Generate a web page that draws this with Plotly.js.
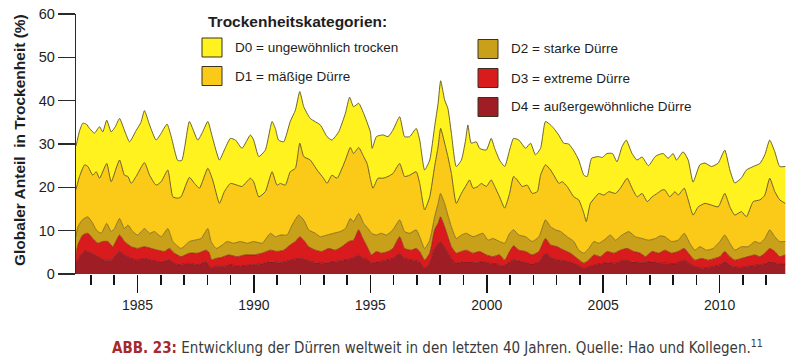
<!DOCTYPE html>
<html>
<head>
<meta charset="utf-8">
<script src="https://cdn.plot.ly/plotly-3.0.1.min.js"></script>
<style>
  html, body { margin: 0; padding: 0; background: #fff; }
  #chart { width: 797px; height: 360px; }
</style>
</head>
<body>
<div id="chart"></div>
<script>
// Cumulative share of global land area in drought (%), category Dk or worse: [year, percent]
const d0 = [[1982.36,29.5],[1982.51,33.0],[1982.65,34.8],[1982.80,34.6],[1982.94,33.6],[1983.15,32.5],[1983.37,34.0],[1983.51,32.8],[1983.68,35.5],[1983.87,32.8],[1984.05,34.0],[1984.23,35.9],[1984.45,33.0],[1984.66,30.5],[1984.94,33.1],[1985.15,35.0],[1985.30,37.7],[1985.52,34.4],[1985.80,30.9],[1986.02,32.5],[1986.27,34.6],[1986.45,31.7],[1986.73,26.2],[1986.90,26.2],[1987.05,30.0],[1987.23,35.2],[1987.59,30.9],[1987.80,32.8],[1988.02,35.2],[1988.23,31.3],[1988.52,26.3],[1988.73,28.6],[1988.99,31.3],[1989.21,30.9],[1989.49,29.0],[1989.85,32.1],[1989.99,30.9],[1990.21,27.1],[1990.49,28.6],[1990.78,35.2],[1990.92,33.6],[1991.06,30.9],[1991.28,30.5],[1991.56,35.2],[1991.78,37.8],[1991.97,42.1],[1992.14,38.6],[1992.42,35.9],[1992.85,34.4],[1993.14,31.7],[1993.35,30.9],[1993.64,32.8],[1993.93,37.1],[1994.11,40.8],[1994.28,38.6],[1994.50,39.4],[1994.71,37.1],[1995.00,32.8],[1995.08,29.0],[1995.26,31.7],[1995.54,32.1],[1995.76,31.7],[1995.97,33.2],[1996.26,36.3],[1996.47,31.7],[1996.69,31.7],[1996.97,33.6],[1997.12,30.9],[1997.33,24.0],[1997.55,26.3],[1997.76,34.0],[1997.91,39.4],[1998.02,44.6],[1998.19,40.2],[1998.33,38.2],[1998.48,32.5],[1998.69,24.8],[1998.91,26.3],[1999.09,30.9],[1999.19,34.4],[1999.33,30.2],[1999.55,30.5],[1999.69,29.0],[1999.98,28.6],[2000.19,31.3],[2000.34,29.0],[2000.55,26.3],[2000.77,24.8],[2000.98,28.6],[2001.15,31.3],[2001.38,30.9],[2001.67,29.0],[2001.88,30.2],[2002.09,27.5],[2002.31,29.0],[2002.52,35.2],[2002.74,34.4],[2002.88,33.6],[2003.10,32.0],[2003.30,30.2],[2003.52,30.0],[2003.74,28.4],[2003.95,26.3],[2004.17,22.8],[2004.31,22.5],[2004.50,26.7],[2004.80,27.1],[2004.96,26.9],[2005.16,27.8],[2005.40,27.8],[2005.59,25.9],[2005.81,29.4],[2005.99,30.9],[2006.23,27.9],[2006.45,26.3],[2006.67,27.0],[2006.94,25.0],[2007.23,27.1],[2007.36,27.5],[2007.58,27.8],[2007.79,26.7],[2008.00,27.8],[2008.15,26.3],[2008.43,28.2],[2008.65,26.3],[2008.86,21.2],[2009.15,25.2],[2009.37,25.6],[2009.65,24.8],[2009.94,25.6],[2010.22,28.6],[2010.44,24.0],[2010.65,21.0],[2010.94,22.2],[2011.15,24.0],[2011.44,24.8],[2011.73,25.5],[2011.94,27.5],[2012.15,30.9],[2012.37,28.2],[2012.58,24.8],[2012.82,24.8]];
const d1 = [[1982.36,19.5],[1982.51,22.5],[1982.73,25.2],[1982.87,24.8],[1983.08,22.8],[1983.23,23.6],[1983.37,22.1],[1983.68,25.5],[1983.87,21.3],[1984.23,26.3],[1984.44,22.8],[1984.59,22.5],[1984.73,20.9],[1984.94,22.5],[1985.30,25.7],[1985.52,22.8],[1985.80,20.5],[1986.02,21.3],[1986.30,24.0],[1986.52,17.8],[1986.73,17.5],[1986.87,17.8],[1987.23,22.3],[1987.45,20.9],[1987.66,19.8],[1988.02,24.4],[1988.23,21.7],[1988.52,16.3],[1988.73,19.0],[1988.99,20.9],[1989.28,20.5],[1989.49,20.2],[1989.85,22.1],[1989.99,21.3],[1990.21,17.8],[1990.49,19.0],[1990.78,23.6],[1990.99,20.5],[1991.14,20.9],[1991.35,20.5],[1991.56,23.6],[1991.78,24.4],[1991.97,30.2],[1992.14,27.1],[1992.42,26.3],[1992.71,24.0],[1992.99,22.1],[1993.14,20.9],[1993.35,22.8],[1993.57,22.1],[1993.93,26.3],[1994.14,29.2],[1994.28,27.8],[1994.50,29.2],[1994.71,27.1],[1994.86,25.5],[1995.00,22.0],[1995.11,19.8],[1995.33,22.1],[1995.54,22.1],[1995.76,22.5],[1995.97,23.2],[1996.26,25.5],[1996.47,22.5],[1996.69,22.8],[1996.97,23.6],[1997.12,20.9],[1997.33,14.8],[1997.55,17.8],[1997.76,24.8],[1997.91,29.4],[1998.02,33.6],[1998.19,30.2],[1998.33,27.1],[1998.48,23.2],[1998.69,16.3],[1998.91,18.6],[1999.12,20.5],[1999.26,21.7],[1999.41,19.8],[1999.62,20.2],[1999.76,20.9],[1999.98,20.2],[2000.19,21.7],[2000.34,20.2],[2000.55,17.8],[2000.77,15.2],[2000.98,18.6],[2001.15,22.5],[2001.31,21.7],[2001.52,20.2],[2001.74,20.5],[2001.95,18.6],[2002.17,19.0],[2002.31,22.8],[2002.52,25.2],[2002.74,24.0],[2002.88,22.8],[2003.10,20.9],[2003.24,21.3],[2003.45,20.2],[2003.74,17.8],[2003.95,17.1],[2004.17,14.0],[2004.27,12.1],[2004.45,16.3],[2004.67,17.8],[2004.81,18.6],[2005.03,18.2],[2005.24,19.0],[2005.53,18.6],[2005.74,19.8],[2006.03,22.1],[2006.24,19.8],[2006.46,17.8],[2006.67,18.6],[2006.89,16.7],[2007.10,17.8],[2007.32,18.6],[2007.53,19.4],[2007.65,19.4],[2007.86,17.8],[2008.08,19.0],[2008.22,18.2],[2008.48,19.8],[2008.65,17.1],[2008.86,13.6],[2009.08,15.5],[2009.37,16.3],[2009.65,15.9],[2009.94,15.5],[2010.22,18.6],[2010.44,15.5],[2010.65,13.6],[2010.94,14.4],[2011.15,13.2],[2011.44,16.7],[2011.73,17.1],[2011.94,18.2],[2012.15,22.1],[2012.37,19.0],[2012.58,17.1],[2012.82,16.3]];
const d2 = [[1982.36,8.6],[1982.44,10.9],[1982.65,12.6],[1982.87,13.2],[1983.08,11.7],[1983.23,10.2],[1983.44,9.4],[1983.68,11.7],[1983.87,9.8],[1984.01,10.5],[1984.23,12.8],[1984.44,10.5],[1984.59,11.3],[1984.80,9.8],[1985.01,9.0],[1985.30,10.5],[1985.52,9.4],[1985.73,9.8],[1986.02,8.6],[1986.30,10.5],[1986.52,7.5],[1986.87,5.9],[1987.23,7.5],[1987.45,7.8],[1987.73,8.2],[1988.02,10.5],[1988.16,7.5],[1988.38,5.9],[1988.59,6.5],[1988.85,7.5],[1989.13,7.1],[1989.42,7.5],[1989.71,7.1],[1989.99,7.5],[1990.35,7.1],[1990.71,9.4],[1990.92,8.6],[1991.14,9.0],[1991.42,9.0],[1991.64,11.3],[1991.92,13.6],[1992.14,12.5],[1992.35,10.2],[1992.64,9.4],[1992.85,8.6],[1993.14,9.0],[1993.42,9.4],[1993.71,9.8],[1993.93,10.5],[1994.14,12.8],[1994.28,12.1],[1994.50,14.0],[1994.71,11.7],[1994.90,10.5],[1995.05,9.4],[1995.26,9.0],[1995.47,9.4],[1995.69,9.0],[1995.97,10.2],[1996.26,12.5],[1996.47,9.8],[1996.69,9.4],[1996.97,10.2],[1997.12,8.6],[1997.33,5.9],[1997.55,7.8],[1997.76,13.2],[1997.91,16.3],[1998.01,18.6],[1998.19,16.3],[1998.33,13.6],[1998.48,10.9],[1998.69,8.2],[1998.91,9.0],[1999.12,9.4],[1999.41,8.6],[1999.62,9.0],[1999.84,9.4],[2000.05,7.8],[2000.26,8.2],[2000.55,7.5],[2000.77,7.1],[2000.98,9.4],[2001.15,10.2],[2001.38,9.0],[2001.67,8.6],[2001.95,7.5],[2002.24,8.6],[2002.52,12.5],[2002.74,10.9],[2002.95,10.2],[2003.17,9.8],[2003.45,8.6],[2003.74,7.5],[2003.95,5.5],[2004.17,4.8],[2004.38,5.9],[2004.60,7.5],[2004.81,7.1],[2005.03,7.8],[2005.31,9.0],[2005.53,7.8],[2005.81,9.0],[2006.10,9.8],[2006.38,8.6],[2006.67,8.2],[2006.95,7.8],[2007.24,8.2],[2007.45,8.8],[2007.65,8.6],[2007.93,7.5],[2008.22,7.8],[2008.48,9.4],[2008.72,7.1],[2008.94,5.5],[2009.15,6.3],[2009.44,5.5],[2009.72,5.9],[2010.01,7.5],[2010.22,9.0],[2010.44,7.1],[2010.65,5.5],[2010.94,6.3],[2011.22,6.3],[2011.51,7.5],[2011.73,7.1],[2011.94,8.2],[2012.15,10.2],[2012.37,8.6],[2012.58,7.5],[2012.82,7.5]];
const d3 = [[1982.36,4.4],[1982.44,6.7],[1982.65,9.0],[1982.87,9.4],[1983.08,8.2],[1983.30,7.1],[1983.51,7.5],[1983.73,7.5],[1983.94,6.3],[1984.23,9.0],[1984.44,7.5],[1984.73,6.3],[1985.01,5.9],[1985.30,6.3],[1985.59,5.9],[1985.87,5.5],[1986.16,5.2],[1986.37,5.9],[1986.59,4.8],[1986.87,4.0],[1987.23,4.8],[1987.59,4.8],[1987.95,5.5],[1988.07,5.0],[1988.18,3.3],[1988.38,3.6],[1988.59,3.8],[1988.92,4.4],[1989.28,4.0],[1989.63,4.4],[1989.99,4.4],[1990.35,4.8],[1990.71,5.5],[1990.99,5.2],[1991.28,5.5],[1991.56,6.7],[1991.78,7.5],[1991.97,8.6],[1992.14,7.8],[1992.35,6.3],[1992.64,5.5],[1992.92,5.2],[1993.21,5.9],[1993.49,5.5],[1993.78,6.3],[1994.07,7.5],[1994.28,7.8],[1994.50,10.2],[1994.64,8.6],[1994.86,6.3],[1995.05,4.4],[1995.26,5.2],[1995.47,4.8],[1995.76,5.2],[1995.97,5.9],[1996.26,8.6],[1996.47,5.9],[1996.76,5.5],[1996.97,5.9],[1997.12,5.2],[1997.33,3.2],[1997.55,4.8],[1997.76,10.2],[1997.91,11.7],[1998.01,13.2],[1998.19,10.9],[1998.33,8.6],[1998.48,6.3],[1998.69,4.8],[1998.91,5.2],[1999.12,5.5],[1999.41,4.8],[1999.69,5.2],[1999.98,4.4],[2000.26,4.0],[2000.55,4.4],[2000.77,3.2],[2000.98,5.2],[2001.15,6.5],[2001.38,5.5],[2001.67,5.2],[2001.95,4.4],[2002.24,5.2],[2002.52,8.2],[2002.74,6.7],[2003.02,6.3],[2003.31,5.5],[2003.59,4.8],[2003.88,3.6],[2004.17,2.5],[2004.38,3.2],[2004.60,4.4],[2004.88,4.0],[2005.17,5.2],[2005.46,4.8],[2005.74,5.5],[2006.03,5.9],[2006.31,5.2],[2006.60,4.8],[2006.81,4.0],[2007.10,5.2],[2007.39,4.8],[2007.65,5.5],[2007.93,4.8],[2008.22,5.2],[2008.48,5.9],[2008.72,4.4],[2008.94,3.2],[2009.22,3.6],[2009.51,3.2],[2009.79,3.6],[2010.01,4.0],[2010.22,5.2],[2010.44,4.0],[2010.65,3.2],[2010.94,3.6],[2011.22,4.0],[2011.51,4.4],[2011.73,4.0],[2011.94,4.8],[2012.15,5.9],[2012.37,5.2],[2012.58,4.0],[2012.82,4.4]];
const d4 = [[1982.36,2.5],[1982.51,4.0],[1982.73,5.3],[1983.01,4.8],[1983.30,4.0],[1983.58,3.2],[1983.87,3.2],[1984.23,5.2],[1984.44,4.4],[1984.73,3.6],[1985.01,3.2],[1985.30,3.6],[1985.59,3.2],[1986.02,2.8],[1986.37,3.2],[1986.73,2.1],[1987.16,2.5],[1987.59,2.1],[1987.95,2.8],[1988.16,1.3],[1988.38,1.8],[1988.66,1.7],[1988.99,2.1],[1989.42,1.8],[1989.85,2.1],[1990.28,2.3],[1990.71,2.8],[1991.14,2.6],[1991.56,3.2],[1991.99,3.6],[1992.28,3.2],[1992.64,2.6],[1992.99,2.5],[1993.42,2.8],[1993.85,3.2],[1994.21,3.6],[1994.50,4.4],[1994.71,3.6],[1994.86,3.4],[1995.05,2.5],[1995.33,2.8],[1995.69,3.2],[1995.97,3.6],[1996.26,4.8],[1996.47,3.6],[1996.83,3.2],[1997.12,2.8],[1997.33,1.3],[1997.55,2.5],[1997.76,5.9],[1998.01,7.5],[1998.26,5.5],[1998.48,3.6],[1998.69,2.5],[1998.98,2.8],[1999.26,2.8],[1999.55,2.6],[1999.84,2.8],[2000.12,2.5],[2000.41,2.3],[2000.69,1.8],[2000.98,2.8],[2001.15,3.2],[2001.52,2.8],[2001.95,2.3],[2002.24,2.8],[2002.52,4.8],[2002.81,3.6],[2003.17,3.2],[2003.52,2.8],[2003.88,2.1],[2004.17,1.3],[2004.45,1.8],[2004.81,2.3],[2005.17,2.6],[2005.53,2.5],[2005.88,3.2],[2006.24,2.8],[2006.67,2.6],[2007.10,2.8],[2007.46,2.5],[2007.72,2.5],[2008.08,2.3],[2008.48,3.2],[2008.79,2.1],[2009.22,1.3],[2009.65,1.7],[2010.01,2.1],[2010.22,2.8],[2010.51,1.8],[2010.87,1.5],[2011.22,1.8],[2011.65,2.1],[2011.94,2.3],[2012.15,2.8],[2012.44,2.5],[2012.82,2.3]];

const categories = ["D0 = ungewöhnlich trocken", "D1 = mäßige Dürre", "D2 = starke Dürre", "D3 = extreme Dürre", "D4 = außergewöhnliche Dürre"];
const seriesData = [d0, d1, d2, d3, d4];
const fillColors = ["#FFF21E", "#FBC917", "#C8A01A", "#D91B1E", "#9F1D24"];
const lineColors = ["#5c5624", "#5e5020", "#6a5410", "#8e1612", "#701418"];
const yTicks = [0, 10, 20, 30, 40, 50, 60];
const xRange = [1982.36, 2012.85];

// plot-area pixel box
const L = 76, R = 786, T = 14, B = 274, W = 797, H = 360;
const px = x => (x - L) / (R - L);
const py = y => (B - y) / (B - T);

const traces = [];
for (let i = 4; i >= 0; i--) {
  const s = seriesData[i];
  traces.push({
    type: "scatter", mode: "lines", name: categories[i],
    x: s.map(p => p[0]), y: s.map(p => p[1]),
    fill: i === 4 ? "tozeroy" : "tonexty",
    fillcolor: fillColors[i],
    line: { color: lineColors[i], width: i <= 1 ? 0.9 : 0.7, shape: "spline", smoothing: 0.5 },
    hoverinfo: "skip", showlegend: false
  });
}
// invisible carrier trace so the yearly minor-tick axis (x2) is drawn
traces.push({ type: "scatter", mode: "lines", xaxis: "x2", yaxis: "y",
  x: d0.map(p => p[0]), y: d0.map(p => p[1]), line: { width: 0 }, opacity: 0,
  hoverinfo: "skip", showlegend: false });

const font = "Liberation Sans, Arial, Helvetica, sans-serif";
const shapes = [], annotations = [];

// legend
annotations.push({ xref: "paper", yref: "paper", x: px(206), y: py(21), xanchor: "left", yanchor: "middle",
  text: "<b>Trockenheitskategorien:</b>", showarrow: false, font: { family: font, size: 15.5, color: "#1e1e1e" } });
const legPos = [[202, 47.5], [202, 76], [478, 49], [478, 78], [478, 107]];
for (let i = 0; i < 5; i++) {
  const [lx, ly] = legPos[i];
  shapes.push({ type: "rect", xref: "paper", yref: "paper", x0: px(lx), x1: px(lx + 20), y0: py(ly - 9.5), y1: py(ly + 9.5),
    fillcolor: fillColors[i], line: { color: "#3a3320", width: 1 } });
  annotations.push({ xref: "paper", yref: "paper", x: px(lx + 31), y: py(ly), xanchor: "left", yanchor: "middle",
    text: categories[i], showarrow: false, font: { family: font, size: 13.5, color: "#1e1e1e" } });
}

// y-axis title
annotations.push({ xref: "paper", yref: "paper", x: px(19), y: py(140), xanchor: "center", yanchor: "middle",
  textangle: -90, text: "<b>Globaler Anteil\u00a0\u00a0in Trockenheit (%)</b>", showarrow: false,
  font: { family: font, size: 15.5, color: "#1e1e1e" } });

// caption
annotations.push({ xref: "paper", yref: "paper", x: px(437), y: py(347), xanchor: "center", yanchor: "middle",
  text: '<b><span style="color:#a8292b">ABB. 23:</span></b> Entwicklung der Dürren weltweit in den letzten 40 Jahren. Quelle: Hao und Kollegen.<sup>11</sup>',
  showarrow: false, font: { family: "Liberation Sans Narrow, DejaVu Sans Condensed, Roboto, sans-serif", size: 15, color: "#3a3a3a" } });

const layout = {
  width: W, height: H,
  margin: { l: L, r: W - R, t: T, b: H - B },
  paper_bgcolor: "#ffffff", plot_bgcolor: "#ffffff",
  showlegend: false,
  xaxis: {
    range: xRange, tickmode: "linear", tick0: 1985, dtick: 5,
    ticks: "outside", ticklen: 18, tickwidth: 1.6, tickcolor: "#141414",
    showline: false, showgrid: false, zeroline: false, fixedrange: true,
    tickfont: { family: font, size: 14, color: "#1e1e1e" }
  },
  xaxis2: {
    overlaying: "x", anchor: "y", side: "bottom",
    range: xRange, tickmode: "linear", tick0: 1983, dtick: 1,
    ticks: "outside", ticklen: 10, tickwidth: 1.5, tickcolor: "#141414",
    showticklabels: false, showline: false, showgrid: false, zeroline: false, fixedrange: true
  },
  yaxis: {
    range: [0, 60], tickmode: "array", tickvals: yTicks, ticktext: yTicks.map(String),
    ticks: "outside", ticklen: 17, tickwidth: 1.3, tickcolor: "#2a2a2a",
    showline: true, linecolor: "#2a2a2a", linewidth: 1.3,
    showgrid: false, zeroline: false, fixedrange: true,
    tickfont: { family: font, size: 14.5, color: "#1e1e1e" }
  },
  shapes: shapes, annotations: annotations
};

Plotly.newPlot("chart", traces, layout, { staticPlot: true, displayModeBar: false });
</script>
</body>
</html>
